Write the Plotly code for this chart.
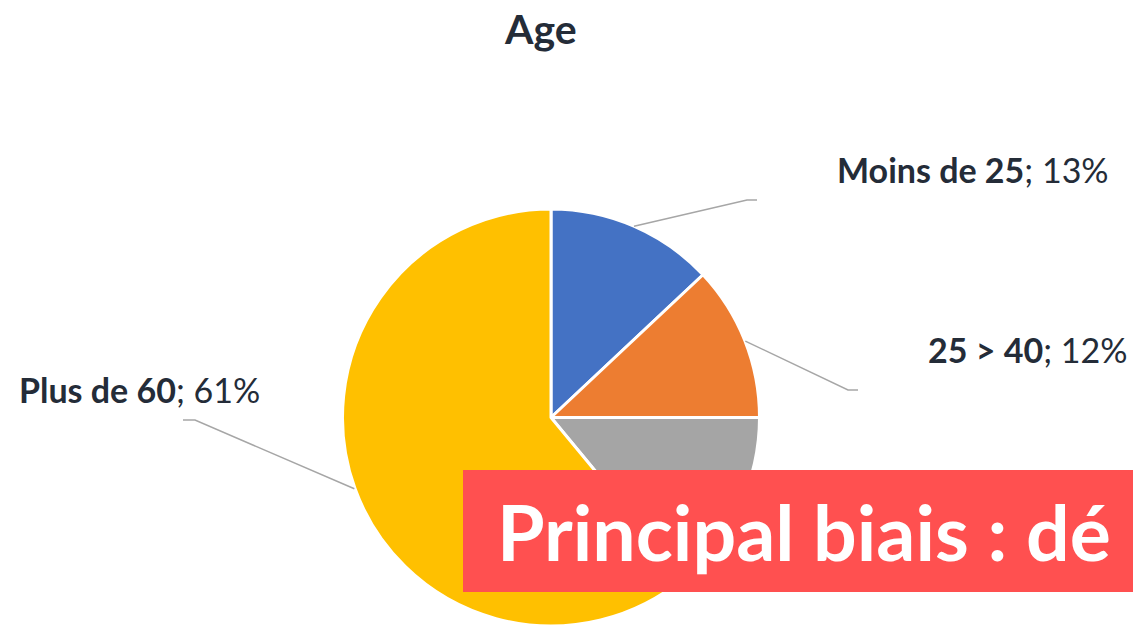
import math
import plotly.graph_objects as go

categories = ["Moins de 25", "25 > 40", "40 > 60", "Plus de 60"]
values = [13, 12, 14, 61]
colors = ["#4472C4", "#ED7D31", "#A5A5A5", "#FFC000"]
# label placement (pixels) : text anchor x, text y, elbow point
label_pos = {
    "Moins de 25": dict(x=1111, y=169, anchor="right", elbow=(747, 200), end=(757, 200)),
    "25 > 40": dict(x=1129, y=349, anchor="right", elbow=(848, 390), end=(858, 390)),
    "Plus de 60": dict(x=17, y=389, anchor="left", elbow=(195, 420), end=(183, 420)),
}

W, H = 1133, 626
CX, CY, R = 551, 418, 209

def px(x):
    return x / W

def py(y):
    return 1 - y / H

fig = go.Figure(go.Pie(
    labels=categories, values=values, sort=False, direction="clockwise",
    rotation=0, textinfo="none", hoverinfo="label+percent",
    marker=dict(colors=colors, line=dict(color="white", width=3)),
    domain=dict(x=[px(CX - R), px(CX + R)], y=[max(0, py(CY + R)), py(CY - R)]),
    showlegend=False,
))

annotations = []
shapes = []
total = sum(values)
cum = 0
txtcol = "#242C38"
for cat, v in zip(categories, values):
    mid = (cum + v / 2) / total * 2 * math.pi
    cum += v
    if cat not in label_pos:
        continue
    p = label_pos[cat]
    sx = CX + R * math.sin(mid)
    sy = CY - R * math.cos(mid)
    ex, ey = p["elbow"]
    fx, fy = p["end"]
    shapes.append(dict(type="path", xref="paper", yref="paper",
                       path=f"M {px(sx)} {py(sy)} L {px(ex)} {py(ey)} L {px(fx)} {py(fy)}",
                       line=dict(color="#A6A6A6", width=1.5)))
    pct = round(v / total * 100)
    annotations.append(dict(
        x=px(p["x"]), y=py(p["y"]), xref="paper", yref="paper",
        xanchor=p["anchor"], yanchor="middle", showarrow=False,
        text=f"<b>{cat}</b>; {pct}%",
        font=dict(family="Lato", size=34, color=txtcol)))

annotations.append(dict(x=px(540), y=py(29), xref="paper", yref="paper",
                        xanchor="center", yanchor="middle", showarrow=False,
                        text="<b>Age</b>", font=dict(family="Lato", size=41, color=txtcol)))

# overlay banner
shapes.append(dict(type="rect", xref="paper", yref="paper",
                   x0=px(463), x1=1.0, y0=py(592), y1=py(470),
                   fillcolor="#FF5050", line=dict(width=0), layer="above"))
annotations.append(dict(x=px(495), y=py(531), xref="paper", yref="paper",
                        xanchor="left", yanchor="middle", showarrow=False,
                        text="<b>Principal biais : dé</b>",
                        font=dict(family="Lato", size=77, color="white")))

fig.update_layout(
    width=W, height=H, autosize=False,
    margin=dict(l=0, r=0, t=0, b=0),
    paper_bgcolor="white", plot_bgcolor="white",
    shapes=shapes, annotations=annotations,
)
fig.write_html("out.html", config={"displayModeBar": False},
               post_script="document.body.style.margin='0';document.body.style.overflow='hidden';")
